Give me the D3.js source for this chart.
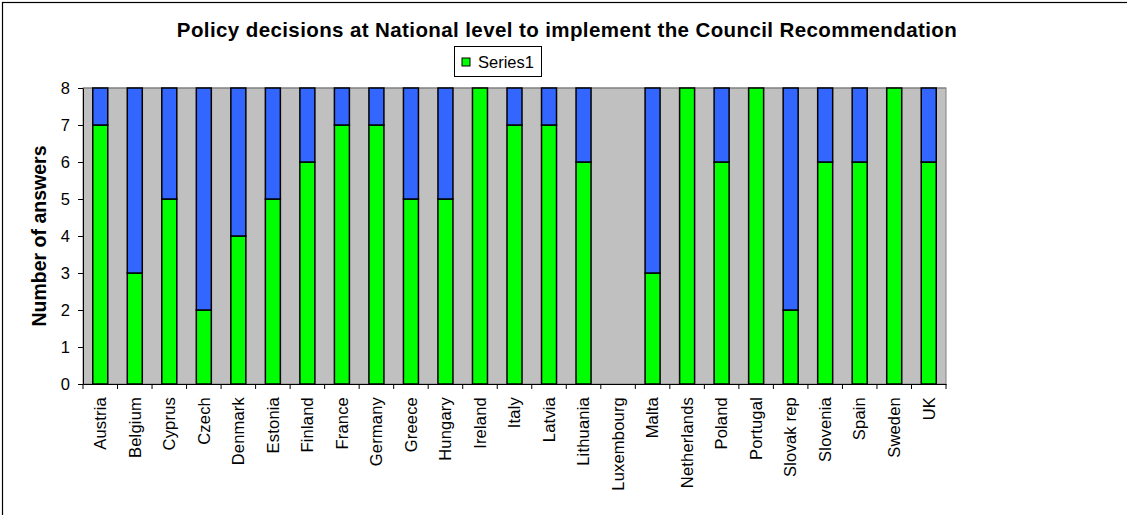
<!DOCTYPE html>
<html>
<head>
<meta charset="utf-8">
<script src="https://cdn.jsdelivr.net/npm/d3@7"></script>
<style>
  body { margin: 0; background: #fff; }
  text { font-family: "Liberation Sans", Arial, sans-serif; }
</style>
</head>
<body>
<script>
// Chart data
var countries = ["Austria", "Belgium", "Cyprus", "Czech", "Denmark", "Estonia", "Finland", "France",
  "Germany", "Greece", "Hungary", "Ireland", "Italy", "Latvia", "Lithuania", "Luxembourg", "Malta",
  "Netherlands", "Poland", "Portugal", "Slovak rep", "Slovenia", "Spain", "Sweden", "UK"];
var series1 = [7, 3, 5, 2, 4, 5, 6, 7, 7, 5, 5, 8, 7, 7, 6, 0, 3, 8, 6, 8, 2, 6, 6, 8, 6];
var series2 = [1, 5, 3, 6, 4, 3, 2, 1, 1, 3, 3, 0, 1, 1, 2, 0, 5, 0, 2, 0, 6, 2, 2, 0, 2];
var yTicks = [0, 1, 2, 3, 4, 5, 6, 7, 8];

var svgWidth = 1127;
var svgHeight = 515;

var chartMargin = { top: 88, right: 181, bottom: 131, left: 83 };
var chartWidth = svgWidth - chartMargin.left - chartMargin.right;
var chartHeight = svgHeight - chartMargin.top - chartMargin.bottom;

var svg = d3.select("body")
  .append("svg")
  .attr("width", svgWidth)
  .attr("height", svgHeight);

// outer frame (only left/top visible in the picture)
svg.append("rect")
  .attr("x", 2.5).attr("y", 2.5)
  .attr("width", 1300).attr("height", 700)
  .attr("fill", "none")
  .attr("stroke", "#000")
  .attr("stroke-width", 1.2);

svg.append("text")
  .attr("x", 567)
  .attr("y", 37)
  .attr("text-anchor", "middle")
  .attr("font-size", "20.5px")
  .attr("font-weight", "bold")
  .attr("letter-spacing", "0.4px")
  .text("Policy decisions at National level to implement the Council Recommendation");

var chartGroup = svg.append("g")
  .attr("transform", `translate(${chartMargin.left}, ${chartMargin.top})`);

var xBandScale = d3.scaleBand()
  .domain(countries)
  .range([0, chartWidth])
  .padding(0);

var yLinearScale = d3.scaleLinear()
  .domain([0, 8])
  .range([chartHeight, 0]);

// plot background
chartGroup.append("rect")
  .attr("width", chartWidth)
  .attr("height", chartHeight)
  .attr("fill", "#c0c0c0")
  .attr("stroke", "#808080")
  .attr("stroke-width", 1);

// gridline at top value
chartGroup.append("line")
  .attr("x1", 0).attr("x2", chartWidth)
  .attr("y1", yLinearScale(8)).attr("y2", yLinearScale(8))
  .attr("stroke", "#808080");

var barWidth = 15;
var bw = xBandScale.bandwidth();

chartGroup.selectAll(".bar1")
  .data(countries)
  .enter()
  .append("rect")
  .attr("class", "bar1")
  .attr("x", d => xBandScale(d) + (bw - barWidth) / 2)
  .attr("y", (d, i) => yLinearScale(series1[i]))
  .attr("width", barWidth)
  .attr("height", (d, i) => chartHeight - yLinearScale(series1[i]))
  .attr("fill", "#00ff00")
  .attr("stroke", "#000")
  .attr("stroke-width", 1.5)
  .style("display", (d, i) => series1[i] > 0 ? null : "none");

chartGroup.selectAll(".bar2")
  .data(countries)
  .enter()
  .append("rect")
  .attr("class", "bar2")
  .attr("x", d => xBandScale(d) + (bw - barWidth) / 2)
  .attr("y", (d, i) => yLinearScale(series1[i] + series2[i]))
  .attr("width", barWidth)
  .attr("height", (d, i) => yLinearScale(series1[i]) - yLinearScale(series1[i] + series2[i]))
  .attr("fill", "#3366ff")
  .attr("stroke", "#000")
  .attr("stroke-width", 1.5)
  .style("display", (d, i) => series2[i] > 0 ? null : "none");

// axes
var leftAxis = d3.axisLeft(yLinearScale).tickValues(yTicks).tickSize(5).tickSizeOuter(0);
var yAxisG = chartGroup.append("g").call(leftAxis);
yAxisG.select(".domain").attr("stroke", "#000");
yAxisG.selectAll("text")
  .attr("font-size", "16.5px")
  .attr("font-family", "Liberation Sans, Arial, sans-serif")
  .attr("fill", "#000")
  .attr("dx", "-5");

var bottomAxis = d3.axisBottom(xBandScale).tickSize(0).tickSizeOuter(0);
var xAxisG = chartGroup.append("g")
  .attr("transform", `translate(0, ${chartHeight})`)
  .call(bottomAxis);
xAxisG.select(".domain").attr("stroke", "#000");
xAxisG.selectAll("text")
  .attr("font-size", "16.5px")
  .attr("font-family", "Liberation Sans, Arial, sans-serif")
  .attr("fill", "#000")
  .attr("letter-spacing", "0.2px")
  .attr("transform", "rotate(-90)")
  .attr("text-anchor", "end")
  .attr("x", -13)
  .attr("y", 0)
  .attr("dy", "0.35em");

// tick marks at category boundaries
xAxisG.selectAll(".bound")
  .data(d3.range(countries.length + 1))
  .enter()
  .append("line")
  .attr("class", "bound")
  .attr("x1", i => i * bw).attr("x2", i => i * bw)
  .attr("y1", 0).attr("y2", 5)
  .attr("stroke", "#000");

// y axis title
svg.append("text")
  .attr("transform", `translate(46, ${chartMargin.top + chartHeight / 2}) rotate(-90)`)
  .attr("text-anchor", "middle")
  .attr("font-size", "19.5px")
  .attr("font-weight", "bold")
  .text("Number of answers");

// legend
var legend = svg.append("g").attr("transform", "translate(454, 46)");
legend.append("rect")
  .attr("x", 0.5).attr("y", 0.5)
  .attr("width", 87).attr("height", 30)
  .attr("fill", "#fff")
  .attr("stroke", "#000")
  .attr("stroke-width", 1);
legend.append("rect")
  .attr("x", 8).attr("y", 12)
  .attr("width", 8).attr("height", 8)
  .attr("fill", "#00ff00")
  .attr("stroke", "#000")
  .attr("stroke-width", 1);
legend.append("text")
  .attr("x", 24).attr("y", 22)
  .attr("font-size", "16.5px")
  .text("Series1");
</script>
</body>
</html>
